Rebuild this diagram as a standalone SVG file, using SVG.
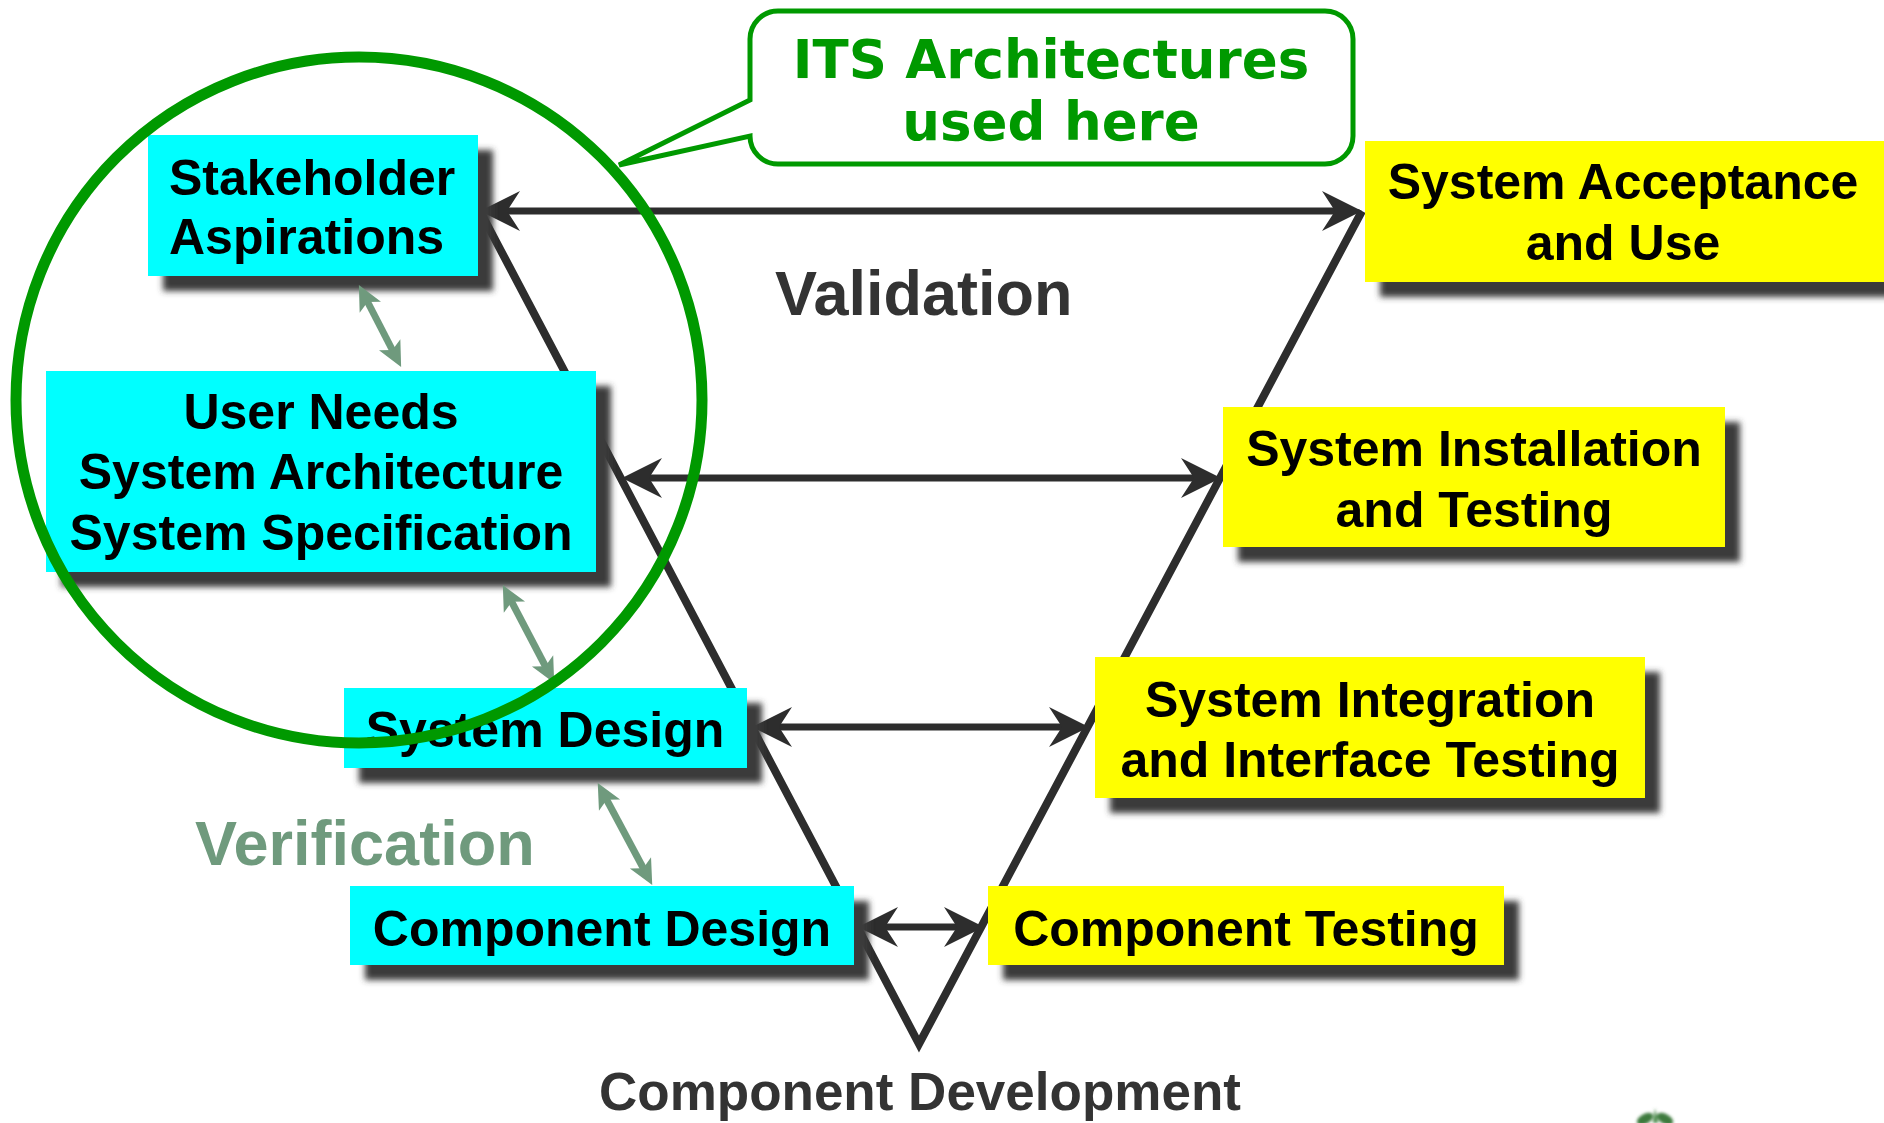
<svg xmlns="http://www.w3.org/2000/svg" width="1884" height="1123" viewBox="0 0 1884 1123">
<defs>
<style>
.box-c{fill:#00ffff}
.box-y{fill:#ffff00}
.shd{fill:#3a3a3a;filter:url(#blur)}
.lbl{font-family:"Liberation Sans",Arial,sans-serif;font-weight:bold;font-size:50px;fill:#000}
.mid{text-anchor:middle}
.vline{fill:none;stroke:#2d2d2d;stroke-width:8;stroke-linejoin:miter}
.harr{stroke:#2d2d2d;stroke-width:7;marker-start:url(#ah);marker-end:url(#ah)}
.garr{stroke:#6f9a7d;stroke-width:7;marker-start:url(#gh);marker-end:url(#gh)}
.big{font-family:"Liberation Sans",Arial,sans-serif;font-weight:bold;font-size:63px}
</style>
<filter id="blur" x="-10%" y="-20%" width="120%" height="140%"><feGaussianBlur stdDeviation="3"/></filter>
<filter id="soft" x="-50%" y="-50%" width="200%" height="200%"><feGaussianBlur stdDeviation="1.5"/></filter>
<marker id="ah" markerUnits="userSpaceOnUse" viewBox="-30 -22 44 44" refX="0" refY="0" markerWidth="44" markerHeight="44" orient="auto-start-reverse">
<path d="M12,0 L-28,-20 L-15,0 L-28,20 Z" fill="#2d2d2d"/>
</marker>
<marker id="gh" markerUnits="userSpaceOnUse" viewBox="-18 -14 30 28" refX="0" refY="0" markerWidth="30" markerHeight="28" orient="auto-start-reverse">
<path d="M9,0 L-16,-12 L-10,0 L-16,12 Z" fill="#6f9a7d"/>
</marker>
</defs>
<rect width="1884" height="1123" fill="#fff"/>

<g id="connectors">
<polyline class="vline" points="480,211 919,1044 1362,211"/>
<line class="harr" x1="492" y1="211" x2="1350" y2="211"/>
<line class="harr" x1="634" y1="478" x2="1209" y2="478"/>
<line class="harr" x1="764" y1="727" x2="1077" y2="727"/>
<line class="harr" x1="870" y1="927" x2="972" y2="927"/>
</g>

<g id="stakeholder">
<rect class="shd" x="163" y="150" width="330" height="141"/>
<rect class="box-c" x="148" y="135" width="330" height="141"/>
<text class="lbl" x="169" y="195">Stakeholder</text>
<text class="lbl" x="169" y="254">Aspirations</text>
</g>

<g id="user-needs">
<rect class="shd" x="61" y="386" width="550" height="201"/>
<rect class="box-c" x="46" y="371" width="550" height="201"/>
<text class="lbl mid" x="321" y="429">User Needs</text>
<text class="lbl mid" x="321" y="489">System Architecture</text>
<text class="lbl mid" x="321" y="550">System Specification</text>
</g>

<g id="system-design">
<rect class="shd" x="359" y="703" width="403" height="80"/>
<rect class="box-c" x="344" y="688" width="403" height="80"/>
<text class="lbl mid" x="545" y="747">System Design</text>
</g>

<g id="component-design">
<rect class="shd" x="365" y="901" width="504" height="79"/>
<rect class="box-c" x="350" y="886" width="504" height="79"/>
<text class="lbl mid" x="602" y="946">Component Design</text>
</g>

<g id="component-testing">
<rect class="shd" x="1003" y="901" width="516" height="79"/>
<rect class="box-y" x="988" y="886" width="516" height="79"/>
<text class="lbl mid" x="1246" y="946">Component Testing</text>
</g>

<g id="system-integration">
<rect class="shd" x="1110" y="672" width="550" height="141"/>
<rect class="box-y" x="1095" y="657" width="550" height="141"/>
<text class="lbl mid" x="1370" y="717">System Integration</text>
<text class="lbl mid" x="1370" y="777">and Interface Testing</text>
</g>

<g id="system-installation">
<rect class="shd" x="1238" y="422" width="502" height="140"/>
<rect class="box-y" x="1223" y="407" width="502" height="140"/>
<text class="lbl mid" x="1474" y="466">System Installation</text>
<text class="lbl mid" x="1474" y="527">and Testing</text>
</g>

<g id="system-acceptance">
<rect class="shd" x="1380" y="156" width="519" height="141"/>
<rect class="box-y" x="1365" y="141" width="530" height="141"/>
<text class="lbl mid" x="1623" y="199">System Acceptance</text>
<text class="lbl mid" x="1623" y="260">and Use</text>
</g>

<g id="verification-arrows">
<line class="garr" x1="363" y1="293" x2="397" y2="359"/>
<line class="garr" x1="507" y1="593" x2="550" y2="675"/>
<line class="garr" x1="602" y1="791" x2="648" y2="877"/>
</g>

<g id="labels">
<text class="big" x="775" y="315" fill="#333333">Validation</text>
<text class="big" x="195" y="865" fill="#6f9a7d">Verification</text>
<text x="599" y="1110" font-family="'Liberation Sans',Arial,sans-serif" font-weight="bold" font-size="53" fill="#333333">Component Development</text>
</g>

<g id="highlight-circle">
<circle cx="359" cy="400" r="343" fill="none" stroke="#009900" stroke-width="11"/>
</g>

<g id="callout">
<path d="M778,11 H1325 A28,28 0 0 1 1353,39 V136 A28,28 0 0 1 1325,164 H778 A28,28 0 0 1 750,136 L619,165 L750,100 V39 A28,28 0 0 1 778,11 Z" fill="#fff" stroke="#009900" stroke-width="5" stroke-linejoin="miter"/>
<text x="1051" y="78" text-anchor="middle" font-family="'DejaVu Sans',Verdana,sans-serif" font-weight="bold" font-size="53" fill="#009900">ITS Architectures</text>
<text x="1051" y="140" text-anchor="middle" font-family="'DejaVu Sans',Verdana,sans-serif" font-weight="bold" font-size="53" fill="#009900">used here</text>
</g>

<g id="logo" filter="url(#soft)">
<ellipse cx="1645" cy="1119" rx="9" ry="5" fill="#3d7a3d" transform="rotate(-30 1645 1119)"/>
<ellipse cx="1665" cy="1119" rx="9" ry="5" fill="#3d7a3d" transform="rotate(30 1665 1119)"/>
<path d="M1655,1108 L1653,1123 L1658,1123 Z" fill="#4a8a4a"/>
</g>
</svg>
